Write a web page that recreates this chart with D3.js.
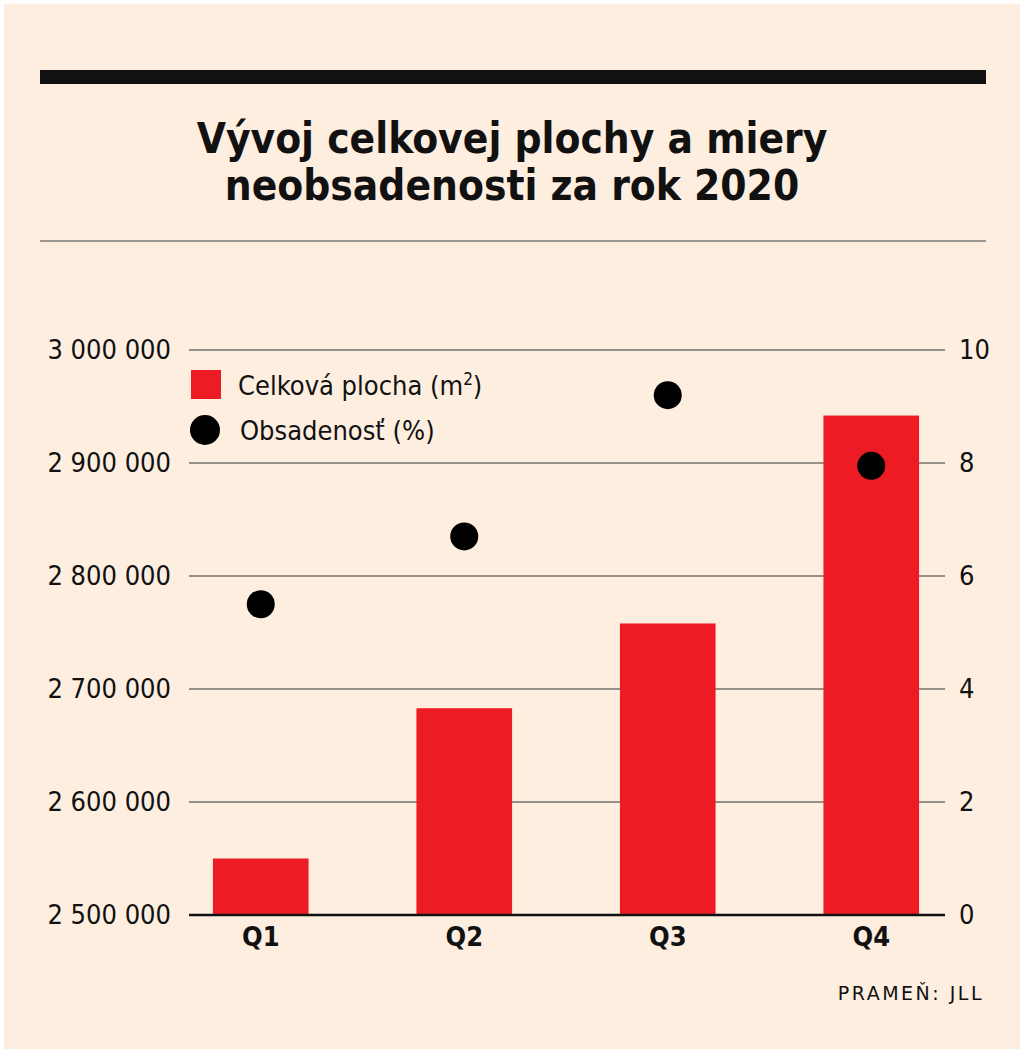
<!DOCTYPE html>
<html><head><meta charset="utf-8">
<script src="https://cdn.jsdelivr.net/npm/d3@7"></script>
<style>body{margin:0;background:#fff}</style></head>
<body><svg id="c" width="1024" height="1053"></svg>
<script>
const categories=["Q1","Q2","Q3","Q4"];
const area=[2550000,2683000,2758000,2942000];
const vacancy=[5.5,6.7,9.2,7.95];
const leftTicks=[2500000,2600000,2700000,2800000,2900000,3000000];
const rightTicks=[0,2,4,6,8,10];
const F='"Liberation Sans Narrow","DejaVu Sans Condensed","Roboto",sans-serif';
const svg=d3.select("#c");
svg.append("rect").attr("x",4).attr("y",4).attr("width",1016).attr("height",1045).attr("fill","#fdeee0");
svg.append("rect").attr("x",40).attr("y",70).attr("width",946).attr("height",14).attr("fill","#111");
svg.append("line").attr("x1",40).attr("x2",986).attr("y1",241).attr("y2",241).attr("stroke","#777").attr("stroke-width",1.5);
const t=svg.append("text").attr("text-anchor","middle").attr("font-family",F).attr("font-weight","bold").attr("font-size",42).attr("fill","#111");
t.append("tspan").attr("x",512).attr("y",153).text("Vývoj celkovej plochy a miery");
t.append("tspan").attr("x",512).attr("y",200).text("neobsadenosti za rok 2020");
const x=d3.scaleBand().domain(categories).range([159,973]).paddingInner(0.53).paddingOuter(0.265);
const y=d3.scaleLinear().domain([2500000,3000000]).range([915,350]);
const y2=d3.scaleLinear().domain([0,10]).range([915,350]);
const fmt=d=>d3.format(",")(d).replace(/,/g," ");
const gl=svg.append("g").attr("transform","translate(189,0)").call(d3.axisLeft(y).tickValues(leftTicks).tickFormat(fmt).tickSize(0).tickPadding(18));
gl.select(".domain").remove();
gl.selectAll("text").attr("font-family",F).attr("font-size",27).attr("fill","#111");
svg.append("g").selectAll("line").data(leftTicks.slice(1)).join("line").attr("x1",189).attr("x2",945).attr("y1",d=>y(d)).attr("y2",d=>y(d)).attr("stroke","#333").attr("stroke-width",1.2);
const gr=svg.append("g").attr("transform","translate(945,0)").call(d3.axisRight(y2).tickValues(rightTicks).tickSize(0).tickPadding(14));
gr.select(".domain").remove();
gr.selectAll("text").attr("font-family",F).attr("font-size",27).attr("fill","#111");
svg.selectAll(".bar").data(categories).join("rect").attr("x",d=>x(d)).attr("width",x.bandwidth()).attr("y",(d,i)=>y(area[i])).attr("height",(d,i)=>915-y(area[i])).attr("fill","#ed1c24");
svg.append("line").attr("x1",189).attr("x2",945).attr("y1",915).attr("y2",915).attr("stroke","#111").attr("stroke-width",2.5);
svg.selectAll(".dot").data(categories).join("circle").attr("cx",d=>x(d)+x.bandwidth()/2).attr("cy",(d,i)=>y2(vacancy[i])).attr("r",14).attr("fill","#000");
const gx=svg.append("g").attr("transform","translate(0,915)").call(d3.axisBottom(x).tickSize(0).tickPadding(12));
gx.select(".domain").remove();
gx.selectAll("text").attr("font-family",F).attr("font-weight","bold").attr("font-size",27).attr("fill","#111");
svg.append("rect").attr("x",191).attr("y",370).attr("width",30).attr("height",29).attr("fill","#ed1c24");
svg.append("circle").attr("cx",205).attr("cy",430).attr("r",15).attr("fill","#000");
svg.append("text").attr("x",238).attr("y",395).attr("font-family",F).attr("font-size",27).attr("fill","#111").html("Celková plocha (m<tspan dy='-10' font-size='17'>2</tspan><tspan dy='10'>)</tspan>");
svg.append("text").attr("x",240).attr("y",440).attr("font-family",F).attr("font-size",27).attr("fill","#111").text("Obsadenosť (%)");
svg.append("text").attr("x",984).attr("y",1000).attr("text-anchor","end").attr("font-family","DejaVu Sans, sans-serif").attr("font-size",19).attr("letter-spacing",2.5).attr("fill","#111").text("PRAMEŇ: JLL");
</script></body></html>
